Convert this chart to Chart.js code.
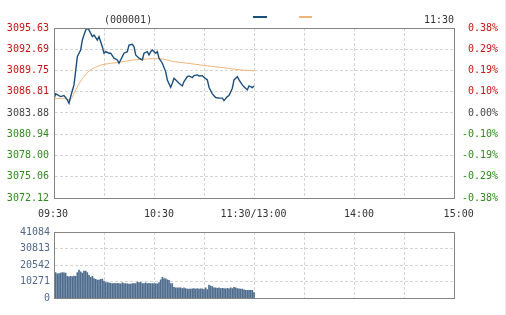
<!DOCTYPE html>
<html>
<head>
<meta charset="utf-8">
<script src="https://cdn.jsdelivr.net/npm/chart.js@4/dist/chart.umd.min.js"></script>
<style>
  html, body { margin:0; padding:0; background:#fff; }
  body { width:506px; height:315px; position:relative; overflow:hidden; font-family:'DejaVu Sans Mono', monospace; }
  canvas { position:absolute; left:0; }
  .txt { position:absolute; font-size:10px; line-height:12px; color:#333; white-space:nowrap; }
  .sw { position:absolute; height:2px; }
</style>
</head>
<body>
<canvas id="price" width="506" height="222" style="top:0"></canvas>
<canvas id="vol" width="506" height="93" style="top:222px"></canvas>
<div class="txt" style="left:104px;top:14px;">(000001)</div>
<div class="txt" style="left:424px;top:14px;">11:30</div>
<div class="sw" style="left:253px;top:16px;width:14px;background:#1c4f7c;"></div>
<div class="sw" style="left:299px;top:16px;width:13px;background:#f0b57c;"></div>
<div style="position:absolute;left:505px;top:0;width:1px;height:315px;background:#e8e8e8;"></div>
<script>
// ---- data ----
const priceTickLabels = ['3072.12','3075.06','3078.00','3080.94','3083.88','3086.81','3089.75','3092.69','3095.63'];
const pctTickLabels = ['-0.38%','-0.29%','-0.19%','-0.10%','0.00%','0.10%','0.19%','0.29%','0.38%'];
const gridMinutes = [0,30,60,90,120,150,180,210,240];
const timeLabels = ['09:30','10:30','11:30/13:00','14:00','15:00'];
const timeLabelMinutes = [-0.6,63,119.7,183,242.8];

const priceMinutes = [0,1,4,6,8,9,10,12,14,16,17,19,20,21,23,24,26,27,29,30,31,33,34,36,38,39,41,42,44,45,47,48,49,51,53,54,56,57,58,59,61,62,63,65,67,68,70,71,72,74,75,77,78,80,81,83,84,86,87,89,90,92,93,95,97,99,101,102,104,105,107,108,110,111,113,114,116,117,119,120];
const priceValues = [3085.83,3086.52,3086.15,3086.28,3085.69,3085.23,3086.15,3087.76,3091.67,3092.59,3093.97,3095.35,3095.59,3095.35,3094.43,3094.66,3093.97,3094.43,3093.05,3092.14,3092.36,3092.14,3092.14,3091.45,3091.21,3090.76,3091.67,3092.14,3092.36,3093.28,3093.38,3093.05,3091.90,3091.45,3091.21,3092.14,3092.36,3091.90,3092.36,3092.59,3092.14,3092.36,3091.45,3090.76,3089.60,3088.45,3087.44,3088.00,3088.69,3088.22,3088.00,3087.62,3088.22,3088.91,3089.00,3088.77,3089.04,3089.14,3089.00,3089.04,3088.82,3088.45,3087.44,3086.52,3086.01,3085.93,3085.93,3085.59,3086.15,3086.28,3087.31,3088.45,3088.91,3088.45,3087.76,3087.52,3087.07,3087.62,3087.39,3087.62];

const avgMinutes = [0,5,10,12,14,16,18,20,22,25,28,32,36,40,48,56,62,66,72,80,88,96,104,112,120];
const avgValues = [3085.83,3085.90,3085.75,3086.60,3087.50,3088.30,3088.90,3089.45,3089.85,3090.20,3090.50,3090.68,3090.80,3090.92,3091.21,3091.35,3091.39,3091.31,3090.98,3090.76,3090.52,3090.29,3090.07,3089.83,3089.72];

const volumeTicks = [0,10271,20542,30813,41084];
const volumes = [15965,15187,15381,15576,15965,15771,15576,13629,13240,13629,13434,13824,13629,15965,17523,16355,15576,16939,16939,15965,14213,13045,13629,12266,11682,11293,11293,11682,11877,10709,9735,9735,9540,9346,9151,9346,9151,9346,9151,8956,9540,9151,9151,8956,8762,8762,9151,9151,9151,10124,9735,9930,9151,9151,9540,9151,9346,9151,9151,9151,9151,8956,9735,11487,13045,12266,12071,11487,11098,9151,9151,6815,6425,6425,6425,6425,6036,6425,6036,5646,5646,5646,5841,6036,5646,6036,5646,5841,5841,5452,6425,5452,8177,7593,7204,6425,6425,6230,6425,6036,6230,6036,5841,6230,5841,6425,6036,6815,6425,6036,5841,5646,5646,5257,4868,4868,4868,4868,4868,3500];

// ---- styles ----
const FONT = {family:"'DejaVu Sans Mono', monospace", size:10};
const RED = '#cc1111', GREEN = '#2f8a1c', BASE = '#444444';
const GRID = '#d4d4d4', FRAME = '#858585';

const framePlugin = {
  id:'frame',
  afterDraw(chart){
    const {ctx, chartArea:a} = chart;
    ctx.save();
    ctx.strokeStyle = FRAME; ctx.lineWidth = 1;
    ctx.strokeRect(Math.round(a.left)+0.5, Math.round(a.top)+0.5, Math.round(a.right-a.left), Math.round(a.bottom-a.top));
    ctx.restore();
  }
};

const priceTickVals = priceTickLabels.map(parseFloat);
const colorFor = (i) => i > 4 ? RED : (i < 4 ? GREEN : BASE);

new Chart(document.getElementById('price'), {
  type:'line',
  data:{
    datasets:[
      {data: priceMinutes.map((m,i)=>({x:m,y:priceValues[i]})), borderColor:'#1c4f7c', borderWidth:1.4, pointRadius:0, tension:0, order:1},
      {data: avgMinutes.map((m,i)=>({x:m,y:avgValues[i]})), borderColor:'#f2b47a', borderWidth:1, pointRadius:0, tension:0.3, order:2}
    ]
  },
  options:{
    responsive:false, animation:false, devicePixelRatio:1,
    layout:{padding:{top:28,right:8,left:0,bottom:0}},
    plugins:{legend:{display:false}, tooltip:{enabled:false}},
    scales:{
      x:{type:'linear', min:0, max:240, position:'bottom',
        afterBuildTicks:s=>{s.ticks = gridMinutes.map(v=>({value:v}));},
        afterFit:s=>{s.height=0;},
        ticks:{display:false},
        grid:{color:GRID, drawTicks:false},
        border:{color:FRAME, dash:[3,2]}
      },
      xl:{type:'linear', min:0, max:240, position:'bottom',
        afterBuildTicks:s=>{s.ticks = timeLabelMinutes.map(v=>({value:v}));},
        afterFit:s=>{s.height=222-198;},
        ticks:{autoSkip:false, maxRotation:0, padding:10, color:'#333', font:FONT,
          callback:(v,i)=>timeLabels[i]},
        grid:{display:false, drawTicks:false},
        border:{display:false}
      },
      y:{position:'left', min:3072.12, max:3095.63,
        afterBuildTicks:s=>{s.ticks = priceTickVals.map(v=>({value:v}));},
        afterFit:s=>{s.width=54;},
        ticks:{padding:5, font:FONT, callback:(v,i)=>priceTickLabels[i], color:c=>colorFor(c.index)},
        grid:{color:GRID, drawTicks:false},
        border:{color:FRAME, dash:[3,2]}
      },
      yr:{position:'right', min:3072.12, max:3095.63,
        afterBuildTicks:s=>{s.ticks = priceTickVals.map(v=>({value:v}));},
        afterFit:s=>{s.width=44;},
        ticks:{padding:5, crossAlign:'far', font:FONT, callback:(v,i)=>pctTickLabels[i], color:c=>colorFor(c.index)},
        grid:{drawOnChartArea:false, drawTicks:false},
        border:{color:FRAME}
      }
    }
  },
  plugins:[framePlugin]
});

new Chart(document.getElementById('vol'), {
  type:'bar',
  data:{
    datasets:[{data: volumes.map((v,i)=>({x:i+1,y:v})), backgroundColor:'#4d6c8e', barThickness:1, borderWidth:0}]
  },
  options:{
    responsive:false, animation:false, devicePixelRatio:1,
    layout:{padding:{top:6,right:52,left:0,bottom:0}},
    plugins:{legend:{display:false}, tooltip:{enabled:false}},
    scales:{
      x:{type:'linear', min:0, max:240, position:'bottom', offset:false,
        afterBuildTicks:s=>{s.ticks = gridMinutes.map(v=>({value:v}));},
        afterFit:s=>{s.height=93-76.3;},
        ticks:{display:false},
        grid:{color:GRID, drawTicks:false, offset:false},
        border:{color:FRAME, dash:[3,2]}
      },
      y:{position:'left', min:0, max:41084,
        afterBuildTicks:s=>{s.ticks = volumeTicks.map(v=>({value:v}));},
        afterFit:s=>{s.width=54;},
        ticks:{padding:4, font:FONT, color:'#52688a', callback:v=>String(v)},
        grid:{color:GRID, drawTicks:false},
        border:{color:FRAME, dash:[3,2]}
      }
    }
  },
  plugins:[framePlugin]
});
</script>
</body>
</html>
